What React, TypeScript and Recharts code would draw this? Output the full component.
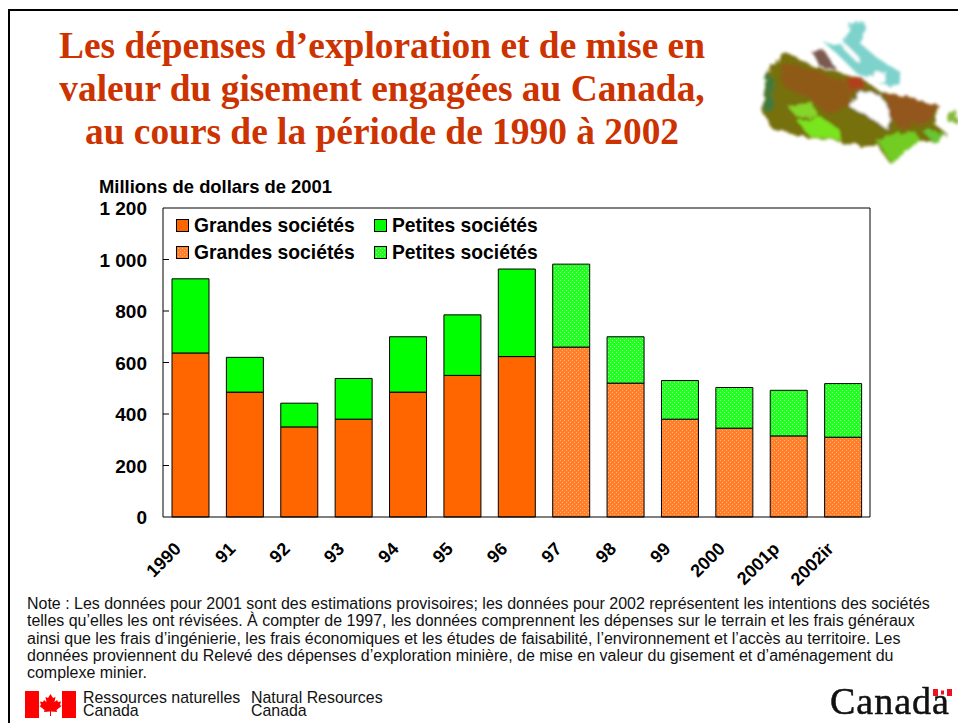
import { BarChart, Bar, XAxis, YAxis, Legend } from "recharts";

const years = ["1990", "91", "92", "93", "94", "95", "96", "97", "98", "99", "2000", "2001p", "2002ir"];
// solid bars up to 1996, dotted from 1997 on
const grandesSolid = [637, 485, 350, 380, 485, 550, 623, null, null, null, null, null, null];
const petitesSolid = [288, 135, 92, 158, 215, 235, 340, null, null, null, null, null, null];
const grandesDotted = [null, null, null, null, null, null, null, 660, 520, 380, 345, 315, 310];
const petitesDotted = [null, null, null, null, null, null, null, 322, 180, 150, 158, 177, 208];
const yTicks = [0, 200, 400, 600, 800, 1000, 1200];

const data = years.map((year, i) => ({
  year,
  grandesSolid: grandesSolid[i],
  petitesSolid: petitesSolid[i],
  grandesDotted: grandesDotted[i],
  petitesDotted: petitesDotted[i],
}));

const titleLines = [
  "Les dépenses d’exploration et de mise en",
  "valeur du gisement engagées au Canada,",
  "au cours de la période de 1990 à 2002",
];
const noteLines = [
  "Note : Les données pour 2001 sont des estimations provisoires; les données pour 2002 représentent les intentions des sociétés",
  "telles qu’elles les ont révisées. À compter de 1997, les données comprennent les dépenses sur le terrain et les frais généraux",
  "ainsi que les frais d’ingénierie, les frais économiques et les études de faisabilité, l’environnement et l’accès au territoire. Les",
  "données proviennent du Relevé des dépenses d’exploration minière, de mise en valeur du gisement et d’aménagement du",
  "complexe minier.",
];

const ARIAL = "'Liberation Sans', Arial, sans-serif";
const TIMES = "'Liberation Serif', 'Times New Roman', serif";

function YTick({ x, y, payload }: any) {
  const label = String(payload.value).replace(/\B(?=(\d{3})+$)/g, " ");
  return (
    <g>
      {payload.value > 0 && payload.value < 1200 && (
        <line x1={x + 8} x2={x + 14} y1={y} y2={y} stroke="#000" />
      )}
      <text x={x - 8} y={y + 7} textAnchor="end" fontFamily={ARIAL} fontWeight="bold" fontSize={19} fill="#000">
        {label}
      </text>
    </g>
  );
}

function XTick({ x, y, payload }: any) {
  return (
    <text
      transform={`translate(${x - 8},${y + 25}) rotate(-45)`}
      textAnchor="end"
      fontFamily={ARIAL}
      fontWeight="bold"
      fontSize={18}
      fill="#000"
    >
      {payload.value}
    </text>
  );
}

function LegendBox({ payload }: any) {
  return (
    <div
      style={{
        display: "grid",
        gridTemplateColumns: "198px 180px",
        gridAutoRows: "27px",
        fontFamily: ARIAL,
        fontWeight: "bold",
        fontSize: 19.3,
        color: "#000",
      }}
    >
      {(payload || []).map((entry: any) => (
        <div key={entry.dataKey} style={{ display: "flex", alignItems: "center", whiteSpace: "nowrap" }}>
          <svg width={13} height={13} style={{ marginRight: 5 }}>
            <rect x={0.5} y={0.5} width={12} height={12} fill={entry.color} stroke="#000" />
          </svg>
          {entry.value}
        </div>
      ))}
    </div>
  );
}

function CanadaMap() {
  return (
    <svg width={258} height={180} viewBox="0 0 774 540" style={{ position: "absolute", left: 700, top: 0 }}>
      <defs>
        <filter id="mapRough" x="-10%" y="-10%" width="120%" height="120%">
          <feTurbulence type="fractalNoise" baseFrequency="0.04" numOctaves="3" seed="7" result="noise" />
          <feDisplacementMap in="SourceGraphic" in2="noise" scale="26" />
          <feGaussianBlur stdDeviation="4" />
        </filter>
      </defs>
      <g filter="url(#mapRough)">
        <path d="M195 215 L260 158 L340 200 L410 215 L490 240 L550 280 L620 290 L720 320 L700 370 L740 400 L710 430 L660 420 L570 490 L530 430 L470 435 L400 420 L300 410 L215 385 L190 340 Z" fill="#76700f" />
        <path d="M240 190 L330 205 L420 240 L480 240 L445 320 L380 340 L320 290 L250 260 Z" fill="#8f5a14" />
        <path d="M550 280 L620 290 L720 320 L680 365 L600 385 L570 350 Z" fill="#93561a" />
        <path d="M440 235 L490 235 L490 265 L450 265 Z" fill="#b0401c" />
        <path d="M260 315 L340 310 L350 350 L290 350 Z" fill="#86d62a" />
        <path d="M295 365 L360 350 L420 390 L425 420 L330 410 Z" fill="#79e51f" />
        <path d="M530 420 L640 390 L660 420 L575 490 Z" fill="#72cc22" />
        <path d="M670 395 L735 395 L710 435 Z" fill="#66c733" />
        <path d="M735 345 L774 335 L770 365 L745 370 Z" fill="#86b83a" />
        <path d="M195 215 L225 240 L215 330 L195 340 Z" fill="#3f7a3a" />
        <path d="M335 155 L370 150 L410 210 L360 200 Z" fill="#7a5a50" />
        <path d="M370 125 L425 135 L450 70 L495 62 L480 130 L540 180 L600 215 L600 260 L540 250 L470 220 L420 170 Z" fill="#7ed2cc" />
        <path d="M450 320 L480 275 L540 285 L570 340 L565 390 L500 345 Z" fill="#ffffff" />
        <path d="M430 125 L480 175 L470 185 L425 140 Z" fill="#ffffff" />
        <path d="M500 225 L560 215 L555 245 L510 245 Z" fill="#ffffff" />
      </g>
    </svg>
  );
}

function CanadaFlag() {
  return (
    <svg width={52} height={28} viewBox="0 0 52 28" style={{ position: "absolute", left: 25, top: 691 }}>
      <rect x={0} y={0} width={14} height={27} fill="#ff0000" />
      <rect x={37} y={0} width={14} height={27} fill="#ff0000" />
      <path
        d="M25.5 3 L28 7 L30.5 6 L29.5 11 L32 9 L33 11 L36 10.5 L35 14 L36.5 15 L31.5 19 L32 21 L26 20.5 L26 25 L25 25 L25 20.5 L19 21 L19.5 19 L14.5 15 L16 14 L15 10.5 L18 11 L19 9 L21.5 11 L20.5 6 L23 7 Z"
        fill="#ff0000"
      />
    </svg>
  );
}

export default function App() {
  return (
    <div style={{ position: "absolute", left: 0, top: 0, width: 958, height: 723, overflow: "hidden", background: "#fff" }}>
      <div style={{ position: "absolute", left: 8, top: 9, right: 0, bottom: 0, borderLeft: "2px solid #000", borderTop: "2px solid #000" }} />

      <div
        style={{
          position: "absolute",
          left: 0,
          top: 24,
          width: 764,
          textAlign: "center",
          fontFamily: TIMES,
          fontWeight: "bold",
          fontSize: 37.4,
          lineHeight: "43px",
          color: "#cc3300",
          whiteSpace: "nowrap",
        }}
      >
        {titleLines.map((line) => (
          <div key={line}>{line}</div>
        ))}
      </div>

      <CanadaMap />

      <div style={{ position: "absolute", left: 99, top: 176, fontFamily: ARIAL, fontWeight: "bold", fontSize: 18.4, color: "#000", whiteSpace: "nowrap" }}>
        Millions de dollars de 2001
      </div>

      <div style={{ position: "absolute", left: 0, top: 0 }}>
        <BarChart
          width={958}
          height={723}
          data={data}
          barSize={37}
          margin={{ top: 207, right: 87, bottom: 0, left: 0 }}
        >
          <defs>
            <pattern id="dotOrange" width={4} height={4} patternUnits="userSpaceOnUse">
              <rect width={4} height={4} fill="#ff7f2a" />
              <rect width={1} height={1} fill="#ffb27a" />
              <rect x={2} y={2} width={1} height={1} fill="#ffb27a" />
            </pattern>
            <pattern id="dotGreen" width={4} height={4} patternUnits="userSpaceOnUse">
              <rect width={4} height={4} fill="#20ff20" />
              <rect width={1} height={1} fill="#a0ffa0" />
              <rect x={2} y={2} width={1} height={1} fill="#a0ffa0" />
            </pattern>
          </defs>
          <XAxis dataKey="year" height={206} interval={0} tick={<XTick />} tickLine={false} axisLine={{ stroke: "#000" }} />
          <XAxis xAxisId="top" orientation="top" dataKey="year" height={1} tick={false} tickLine={false} axisLine={{ stroke: "#000" }} />
          <YAxis width={163} domain={[0, 1200]} ticks={yTicks} interval={0} tick={<YTick />} tickLine={false} axisLine={{ stroke: "#000" }} />
          <YAxis yAxisId="right" orientation="right" width={1} domain={[0, 1200]} tick={false} tickLine={false} axisLine={{ stroke: "#000" }} />
          <Legend
            layout="horizontal"
            verticalAlign="middle"
            itemSorter={null}
            content={<LegendBox />}
            wrapperStyle={{ position: "absolute", left: 176, top: 212, width: 400 }}
          />
          <Bar dataKey="grandesSolid" name="Grandes sociétés" stackId="a" fill="#ff6600" stroke="#000" isAnimationActive={false} />
          <Bar dataKey="petitesSolid" name="Petites sociétés" stackId="a" fill="#00ff00" stroke="#000" isAnimationActive={false} />
          <Bar dataKey="grandesDotted" name="Grandes sociétés" stackId="a" fill="url(#dotOrange)" stroke="#000" isAnimationActive={false} />
          <Bar dataKey="petitesDotted" name="Petites sociétés" stackId="a" fill="url(#dotGreen)" stroke="#000" isAnimationActive={false} />
        </BarChart>
      </div>

      <div
        style={{
          position: "absolute",
          left: 27,
          top: 595,
          fontFamily: ARIAL,
          fontSize: 15.97,
          lineHeight: "17.3px",
          color: "#111",
          whiteSpace: "nowrap",
        }}
      >
        {noteLines.map((line) => (
          <div key={line}>{line}</div>
        ))}
      </div>

      <CanadaFlag />
      <div style={{ position: "absolute", left: 83, top: 691, fontFamily: ARIAL, fontSize: 15.9, lineHeight: "13px", color: "#111", whiteSpace: "nowrap" }}>
        Ressources naturelles
        <br />
        Canada
      </div>
      <div style={{ position: "absolute", left: 251, top: 691, fontFamily: ARIAL, fontSize: 15.9, lineHeight: "13px", color: "#111", whiteSpace: "nowrap" }}>
        Natural Resources
        <br />
        Canada
      </div>

      <div style={{ position: "absolute", left: 830, top: 683, fontFamily: TIMES, fontSize: 38, lineHeight: "36px", color: "#111", letterSpacing: 1, whiteSpace: "nowrap", filter: "blur(0.6px)", WebkitTextStroke: "0.5px #111" }}>
        Canada
      </div>
      <svg width={19} height={7} style={{ position: "absolute", left: 933, top: 689 }}>
        <rect x={0} y={0} width={5} height={7} fill="#ee1122" />
        <rect x={14} y={0} width={5} height={7} fill="#ee1122" />
        <rect x={8} y={1.5} width={3} height={4} fill="#ee1122" />
      </svg>
    </div>
  );
}
